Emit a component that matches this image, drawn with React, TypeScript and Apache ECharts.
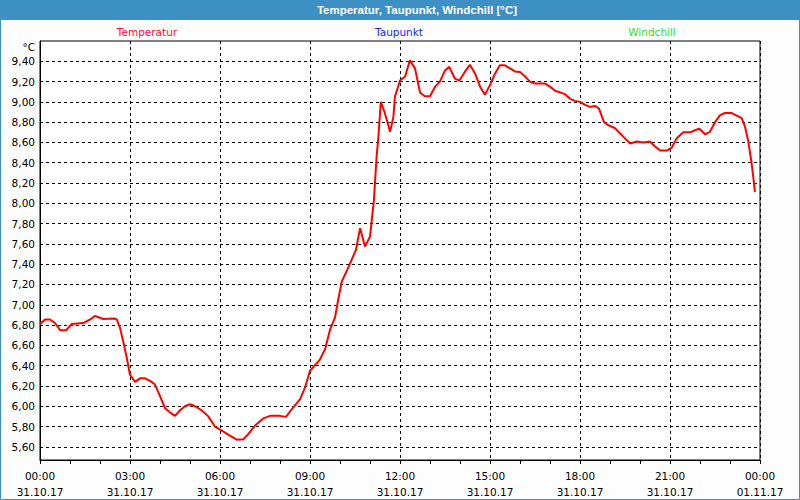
import React, { useEffect, useRef } from "react";
import * as echarts from "echarts";

const hours = [0, 0.17, 0.33, 0.5, 0.67, 0.87, 1.06, 1.44, 1.67, 1.83, 2.11, 2.47, 2.56, 2.67, 2.78, 2.89, 3.0, 3.17, 3.33, 3.5, 3.67, 3.83, 4.0, 4.17, 4.33, 4.5, 4.67, 4.83, 5.0, 5.17, 5.39, 5.61, 5.83, 6.06, 6.33, 6.56, 6.78, 6.94, 7.17, 7.44, 7.67, 8.0, 8.2, 8.39, 8.67, 8.83, 9.0, 9.33, 9.5, 9.67, 9.83, 9.94, 10.06, 10.22, 10.39, 10.53, 10.67, 10.83, 11.0, 11.13, 11.22, 11.28, 11.36, 11.5, 11.67, 11.78, 11.83, 12.0, 12.17, 12.33, 12.5, 12.67, 12.83, 13.0, 13.17, 13.33, 13.5, 13.64, 13.83, 13.98, 14.17, 14.33, 14.5, 14.67, 14.83, 15.0, 15.17, 15.33, 15.5, 15.67, 15.83, 16.0, 16.17, 16.33, 16.5, 16.83, 17.0, 17.17, 17.5, 17.67, 17.83, 18.0, 18.17, 18.33, 18.5, 18.63, 18.8, 18.94, 19.17, 19.33, 19.5, 19.67, 19.89, 20.11, 20.33, 20.5, 20.67, 20.89, 21.06, 21.22, 21.44, 21.67, 21.83, 21.98, 22.17, 22.33, 22.5, 22.67, 22.83, 23.06, 23.22, 23.39, 23.5, 23.61, 23.72, 23.8, 23.83];

const temperatur = [6.81, 6.855, 6.855, 6.82, 6.75, 6.75, 6.81, 6.82, 6.855, 6.89, 6.86, 6.865, 6.855, 6.77, 6.63, 6.48, 6.31, 6.24, 6.275, 6.275, 6.25, 6.215, 6.1, 5.98, 5.94, 5.905, 5.96, 6.0, 6.02, 6.0, 5.96, 5.9, 5.8, 5.76, 5.71, 5.67, 5.675, 5.725, 5.81, 5.88, 5.905, 5.905, 5.895, 5.97, 6.07, 6.18, 6.35, 6.46, 6.56, 6.757, 6.87, 7.05, 7.23, 7.33, 7.445, 7.54, 7.756, 7.575, 7.67, 8.03, 8.46, 8.656, 9.0, 8.886, 8.706, 8.85, 9.05, 9.21, 9.25, 9.41, 9.33, 9.09, 9.056, 9.056, 9.15, 9.2, 9.31, 9.345, 9.23, 9.21, 9.3, 9.365, 9.28, 9.15, 9.07, 9.165, 9.28, 9.36, 9.36, 9.33, 9.3, 9.295, 9.25, 9.2, 9.18, 9.18, 9.15, 9.11, 9.076, 9.03, 9.01, 9.0, 8.97, 8.95, 8.96, 8.935, 8.8, 8.77, 8.74, 8.69, 8.64, 8.59, 8.61, 8.6, 8.61, 8.56, 8.52, 8.52, 8.55, 8.64, 8.7, 8.7, 8.72, 8.735, 8.68, 8.705, 8.8, 8.87, 8.89, 8.89, 8.865, 8.84, 8.755, 8.61, 8.395, 8.2, 8.11];

const yTickValues = [5.6, 5.8, 6.0, 6.2, 6.4, 6.6, 6.8, 7.0, 7.2, 7.4, 7.6, 7.8, 8.0, 8.2, 8.4, 8.6, 8.8, 9.0, 9.2, 9.4];
const xTickValues = [0, 3, 6, 9, 12, 15, 18, 21, 24];
const xTickLabels = [
  "00:00\n31.10.17", "03:00\n31.10.17", "06:00\n31.10.17", "09:00\n31.10.17",
  "12:00\n31.10.17", "15:00\n31.10.17", "18:00\n31.10.17", "21:00\n31.10.17", "00:00\n01.11.17",
];
const titleText = "Temperatur, Taupunkt, Windchill [°C]";
const legendNames = ["Temperatur", "Taupunkt", "Windchill"];
const legendColors = ["#ff0a3c", "#2020ff", "#33dd33"];

const FONT = "DejaVu Sans";

export default function App() {
  const ref = useRef<HTMLDivElement>(null);
  useEffect(() => {
    if (!ref.current) return;
    const chart = echarts.init(ref.current, null, { renderer: "svg" });
    const legendX = [147, 399, 652];
    chart.setOption({
      animation: false,
      backgroundColor: "#fcfdfc",
      grid: {
        left: 40, right: 40, top: 41, bottom: 39,
        show: true, borderColor: "#000", borderWidth: 1, backgroundColor: "#ffffff",
      },
      xAxis: {
        type: "value", min: 0, max: 24, interval: 3,
        axisLine: { show: true, lineStyle: { color: "#000", width: 1 } },
        axisTick: { show: true, length: 4, lineStyle: { color: "#000" } },
        minorTick: { show: true, splitNumber: 3, length: 4, lineStyle: { color: "#000" } },
        splitLine: { show: true, lineStyle: { color: "#000", type: [3, 3], width: 1 } },
        axisLabel: {
          color: "#000", fontFamily: FONT, fontSize: 10.5, lineHeight: 16, margin: 8,
          formatter: (v: number) => {
            const i = xTickValues.indexOf(v);
            return i >= 0 ? xTickLabels[i] : "";
          },
        },
      },
      yAxis: {
        type: "value", min: 5.47, max: 9.6,
        axisLine: { show: true, lineStyle: { color: "#000", width: 1 } },
        axisTick: { show: false, customValues: yTickValues },
        splitLine: { show: true, lineStyle: { color: "#000", type: [3, 3], width: 1 } },
        axisLabel: {
          customValues: yTickValues,
          color: "#000", fontFamily: FONT, fontSize: 10.5, margin: 5,
          formatter: (v: number) => v.toFixed(2).replace(".", ","),
        },
      },
      series: [
        {
          type: "line",
          name: legendNames[0],
          data: hours.map((h, i) => [h, temperatur[i]]),
          showSymbol: false,
          smooth: false,
          lineStyle: { color: "#ff0000", width: 2 },
          z: 5,
        },
      ],
      graphic: [
        { type: "rect", shape: { x: 0, y: 0, width: 800, height: 20 }, style: { fill: "#3d90c4" }, z: 10 },
        {
          type: "rect", shape: { x: 0.5, y: 0.5, width: 799, height: 499 },
          style: { fill: "none", stroke: "#3d90c4", lineWidth: 1 }, z: 10,
        },
        {
          type: "text", x: 417, y: 10, z: 11,
          style: {
            text: titleText, fill: "#ffffff", font: `bold 11.5px "Liberation Sans"`,
            align: "center", verticalAlign: "middle",
          },
        },
        ...legendNames.map((n, i) => ({
          type: "text", x: legendX[i], y: 32, z: 11,
          style: { text: n, fill: legendColors[i], font: `10.5px "${FONT}"`, align: "center", verticalAlign: "middle" },
        })),
        {
          type: "text", x: 35, y: 47, z: 11,
          style: { text: "°C", fill: "#000", font: `10.5px "${FONT}"`, align: "right", verticalAlign: "middle" },
        },
      ],
    });
    return () => chart.dispose();
  }, []);
  return <div ref={ref} style={{ position: "fixed", left: 0, top: 0, width: 800, height: 500 }} />;
}
